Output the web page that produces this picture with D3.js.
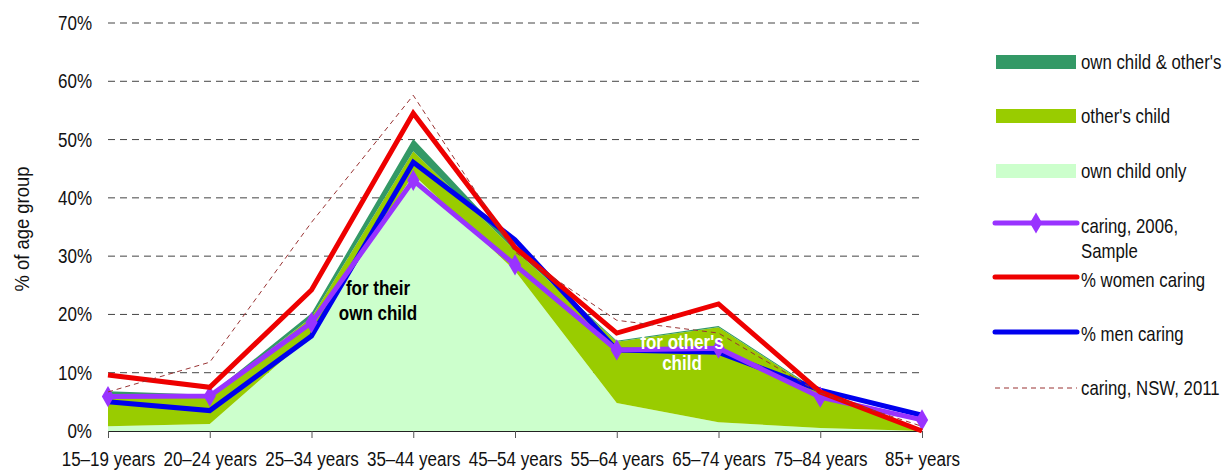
<!DOCTYPE html>
<html><head><meta charset="utf-8">
<script src="https://cdn.jsdelivr.net/npm/d3@7"></script>
<style>
body{margin:0;background:#fff;}
svg text{font-family:"Liberation Sans Narrow","Liberation Sans",Arial,sans-serif;}
</style></head>
<body><svg id="c" width="1229" height="471"></svg>
<script>
const categories = ["15–19 years","20–24 years","25–34 years","35–44 years","45–54 years","55–64 years","65–74 years","75–84 years","85+ years"];
const yTicks = [0,0.1,0.2,0.3,0.4,0.5,0.6,0.7];
// stacked areas (share of age group)
const ownChildOnly   = [0.008,0.012,0.165,0.440,0.275,0.048,0.015,0.005,0.000];
const othersChild    = [0.055,0.046,0.030,0.040,0.035,0.105,0.163,0.060,0.000];
const ownAndOthers   = [0.005,0.004,0.007,0.021,0.005,0.002,0.002,0.002,0.000];
// lines
const caring2006     = [0.059,0.060,0.186,0.430,0.285,0.139,0.142,0.058,0.019];
const womenCaring    = [0.096,0.075,0.242,0.545,0.315,0.168,0.218,0.067,0.000];
const menCaring      = [0.050,0.035,0.163,0.461,0.328,0.139,0.135,0.070,0.027];
const nswCaring2011  = [0.067,0.118,0.358,0.576,0.307,0.190,0.168,0.065,0.008];

const svg = d3.select("#c");
const x = d3.scalePoint().domain(categories).range([108,922]);
const y = d3.scaleLinear().domain([0,0.7]).range([431,23]);

// gridlines
svg.append("g").selectAll("line").data(yTicks.filter(d=>d>0)).join("line")
  .attr("x1",108).attr("x2",922).attr("y1",d=>y(d)).attr("y2",d=>y(d))
  .attr("stroke","#444").attr("stroke-width",1).attr("stroke-dasharray","7,5");

// y labels
svg.append("g").selectAll("text").data(yTicks).join("text")
  .attr("x",92).attr("y",d=>y(d)).attr("dy","0.35em").attr("text-anchor","end")
  .attr("font-size",20).attr("fill","#111").text(d=>Math.round(d*100)+"%");

svg.append("text").attr("class","ytitle").attr("transform","translate(29,229) rotate(-90)")
  .attr("text-anchor","middle").attr("font-size",20).attr("fill","#111").text("% of age group");

// stacked areas
const rows = categories.map((c,i)=>({c, a:ownChildOnly[i], b:othersChild[i], d:ownAndOthers[i]}));
const stack = d3.stack().keys(["a","b","d"])(rows);
const areaColors = {a:"#ccffcc", b:"#99cc00", d:"#339966"};
const area = d3.area().x(d=>x(d.data.c)).y0(d=>y(d[0])).y1(d=>y(d[1]));
svg.append("g").selectAll("path").data(stack).join("path")
  .attr("d",area).attr("fill",d=>areaColors[d.key]);

// x axis
const xAxis = d3.axisBottom(x).tickSize(7).tickPadding(14).tickSizeOuter(0);
const gx = svg.append("g").attr("transform","translate(0,431)").call(xAxis);
gx.attr("font-family",null).attr("font-size",null);
gx.select(".domain").attr("stroke","#222");
gx.selectAll(".tick line").attr("stroke","#555");
gx.selectAll(".tick text").attr("font-size",20).attr("fill","#111");

const line = d3.line().x((d,i)=>x(categories[i])).y(d=>y(d));
svg.append("path").attr("d",line(menCaring)).attr("fill","none").attr("stroke","#0000ee").attr("stroke-width",5);
svg.append("path").attr("d",line(caring2006)).attr("fill","none").attr("stroke","#9933ff").attr("stroke-width",5);
svg.append("g").selectAll("path").data(caring2006).join("path")
  .attr("d",d3.symbol(d3.symbolDiamond,130)()).attr("fill","#9933ff")
  .attr("transform",(d,i)=>`translate(${x(categories[i])},${y(d)})`);
svg.append("path").attr("d",line(womenCaring)).attr("fill","none").attr("stroke","#ee0000").attr("stroke-width",5);
svg.append("path").attr("d",line(nswCaring2011)).attr("fill","none").attr("stroke","#993333").attr("stroke-width",1).attr("stroke-dasharray","5,4");

// annotations
const ann = svg.append("g").attr("font-weight","bold").attr("font-size",20).attr("text-anchor","middle");
ann.append("text").attr("x",378).attr("y",288).attr("dy","0.35em").attr("fill","#000").text("for their");
ann.append("text").attr("x",378).attr("y",313).attr("dy","0.35em").attr("fill","#000").text("own child");
ann.append("text").attr("x",682).attr("y",342).attr("dy","0.35em").attr("fill","#fff").text("for other's");
ann.append("text").attr("x",682).attr("y",363).attr("dy","0.35em").attr("fill","#fff").text("child");

// legend
const legAreas = [["own child & other's","#339966",62],["other's child","#99cc00",116],["own child only","#ccffcc",171]];
const lg = svg.append("g");
const legText = (t,yy)=>lg.append("text").attr("class","legtext").attr("x",1081).attr("y",yy).attr("dy","0.35em").attr("font-size",20).attr("fill","#111").text(t);
legAreas.forEach(([t,c,yy])=>{
  lg.append("rect").attr("x",996).attr("y",yy-7).attr("width",80).attr("height",14).attr("fill",c);
  legText(t,yy);
});
lg.append("line").attr("x1",995).attr("x2",1077).attr("y1",223).attr("y2",223).attr("stroke","#9933ff").attr("stroke-width",5).attr("stroke-linecap","round");
lg.append("path").attr("d",d3.symbol(d3.symbolDiamond,130)()).attr("fill","#9933ff").attr("transform","translate(1036,223)");
legText("caring, 2006,",226);
legText("Sample",251);
lg.append("line").attr("x1",995).attr("x2",1077).attr("y1",277).attr("y2",277).attr("stroke","#ee0000").attr("stroke-width",5).attr("stroke-linecap","round");
legText("% women caring",280);
lg.append("line").attr("x1",995).attr("x2",1077).attr("y1",332).attr("y2",332).attr("stroke","#0000ee").attr("stroke-width",5).attr("stroke-linecap","round");
legText("% men caring",334);
lg.append("line").attr("x1",995).attr("x2",1077).attr("y1",388).attr("y2",388).attr("stroke","#993333").attr("stroke-width",1).attr("stroke-dasharray","5,4");
legText("caring, NSW, 2011",388);

// condense text (narrow face look)
svg.selectAll("text").each(function(){
  const sel = d3.select(this);
  if (this.classList.contains("legtext")) {
    const f = 0.84, x0 = +sel.attr("x");
    sel.attr("transform",`translate(${x0*(1-f)},0) scale(${f},1)`);
    return;
  }
  const w = this.getComputedTextLength();
  if (w > 0) {
    const f = this.classList.contains("ytitle") ? 0.92 : 0.85;
    sel.attr("textLength", (w*f).toFixed(1)).attr("lengthAdjust","spacingAndGlyphs");
  }
});
</script></body></html>
